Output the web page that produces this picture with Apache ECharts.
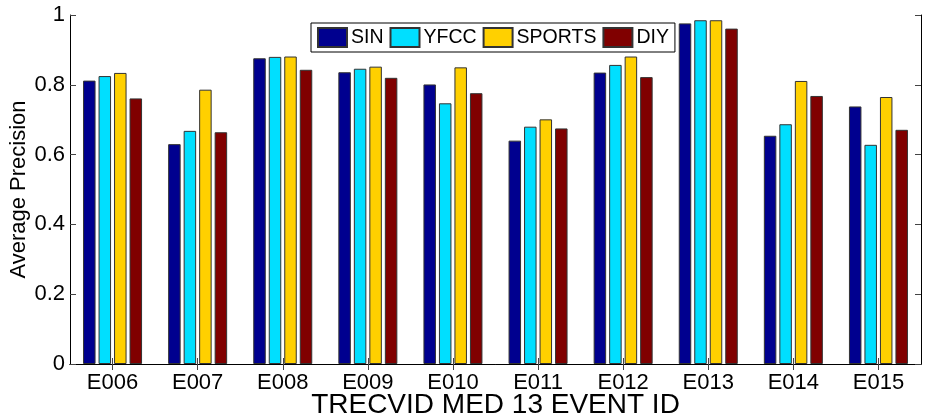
<!DOCTYPE html>
<html>
<head>
<meta charset="utf-8">
<script src="https://cdn.jsdelivr.net/npm/echarts@6/dist/echarts.min.js"></script>
<style>
  html, body { margin: 0; padding: 0; background: #fff; }
  #chart { width: 925px; height: 419px; }
</style>
</head>
<body>
<div id="chart"></div>
<script>
// Event IDs along the x axis
const categories = ['E006', 'E007', 'E008', 'E009', 'E010', 'E011', 'E012', 'E013', 'E014', 'E015'];

// Average precision per event for each source
const sin    = [0.812, 0.630, 0.876, 0.836, 0.801, 0.640, 0.835, 0.976, 0.654, 0.738];
const yfcc   = [0.825, 0.668, 0.880, 0.846, 0.747, 0.680, 0.857, 0.985, 0.687, 0.628];
const sports = [0.834, 0.786, 0.881, 0.852, 0.850, 0.701, 0.881, 0.985, 0.811, 0.765];
const diy    = [0.761, 0.664, 0.843, 0.820, 0.776, 0.675, 0.822, 0.961, 0.768, 0.671];

const seriesNames = ['SIN', 'YFCC', 'SPORTS', 'DIY'];
const yTickLabels = ['0', '0.2', '0.4', '0.6', '0.8', '1'];

const colors = ['#00008f', '#00dfff', '#ffd000', '#800000'];
const font = 'Liberation Sans, Arial, sans-serif';

const chart = echarts.init(document.getElementById('chart'), null, { renderer: 'canvas' });

const barSeries = [sin, yfcc, sports, diy].map((values, i) => ({
  name: seriesNames[i],
  type: 'bar',
  xAxisIndex: 0,
  yAxisIndex: 0,
  data: values,
  barWidth: 12.5,
  barGap: '24%',
  itemStyle: { color: colors[i], borderColor: '#333', borderWidth: 1 }
}));

const frameLine = { show: true, lineStyle: { color: '#000', width: 1 } };
const innerTick = { show: true, inside: true, length: 6, lineStyle: { color: '#444', width: 1 } };

chart.setOption({
  animation: false,
  textStyle: { fontFamily: font, color: '#000' },
  grid: { left: 70, right: 4, top: 15, bottom: 55, containLabel: false, outerBoundsMode: 'none' },
  legend: {
    data: seriesNames,
    icon: 'rect',
    left: 311,
    top: 23,
    orient: 'horizontal',
    padding: [4, 6, 4, 6],
    itemWidth: 29,
    itemHeight: 19,
    itemGap: 6,
    borderColor: '#000',
    borderWidth: 1,
    backgroundColor: '#fff',
    textStyle: { fontFamily: font, fontSize: 19.5, color: '#000', padding: [0, 0, 0, -1] }
  },
  xAxis: [
    {
      type: 'category',
      data: categories,
      position: 'bottom',
      axisLine: frameLine,
      axisTick: Object.assign({ alignWithLabel: true }, innerTick),
      axisLabel: { fontFamily: font, fontSize: 22, color: '#000', margin: 8 },
      name: 'TRECVID MED 13 EVENT ID',
      nameLocation: 'middle',
      nameGap: 27,
      nameMoveOverlap: false,
      nameTextStyle: { fontFamily: font, fontSize: 28, color: '#000' },
      splitLine: { show: false }
    },
    {
      type: 'category',
      data: categories,
      position: 'top',
      axisLine: frameLine,
      axisTick: Object.assign({ alignWithLabel: true }, innerTick),
      axisLabel: { show: false },
      splitLine: { show: false }
    }
  ],
  yAxis: [
    {
      type: 'value',
      min: 0,
      max: 1,
      interval: 0.2,
      position: 'left',
      axisLine: frameLine,
      axisTick: innerTick,
      axisLabel: {
        fontFamily: font, fontSize: 22, color: '#000', margin: 5,
        formatter: v => yTickLabels[Math.round(v / 0.2)]
      },
      name: 'Average Precision',
      nameLocation: 'middle',
      nameGap: 40,
      nameMoveOverlap: false,
      nameTextStyle: { fontFamily: font, fontSize: 22, color: '#000' },
      splitLine: { show: false }
    },
    {
      type: 'value',
      min: 0,
      max: 1,
      interval: 0.2,
      position: 'right',
      axisLine: frameLine,
      axisTick: innerTick,
      axisLabel: { show: false },
      splitLine: { show: false }
    }
  ],
  series: barSeries
});
</script>
</body>
</html>
